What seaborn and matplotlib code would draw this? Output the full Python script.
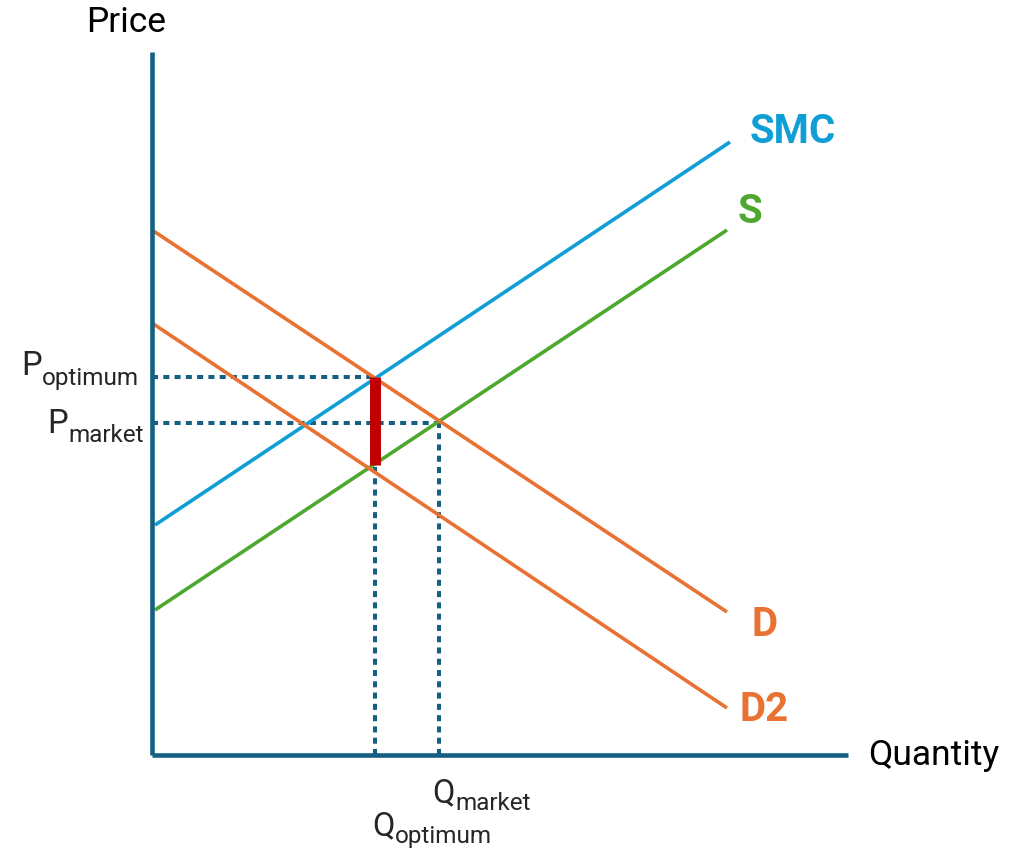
import matplotlib
matplotlib.use("Agg")
import matplotlib.pyplot as plt
import seaborn as sns
import pandas as pd

# ---- data (quantity, price) ----
smc_q = [3, 578]
smc_p = [230, 613]
s_q = [3, 575]
s_p = [145, 525]
d_q = [0, 575]
d_p = [525, 143]
d2_q = [0, 575]
d2_p = [432, 47]

q_optimum = 223
p_optimum = 378
q_market = 287
p_market = 332
p_welfare_low = 290   # bottom of red bar (S at Q_optimum)

axis_q_max = 696
axis_p_max = 703

curve_names = ["SMC", "S", "D", "D2"]

# ---- styling ----
sns.set_theme(style="white")
plt.rcParams["font.family"] = ["Roboto", "DejaVu Sans"]

C_SMC = "#0F9ED5"
C_S = "#4EA72E"
C_D = "#E97132"
C_AX = "#156082"
C_RED = "#C00000"

fig = plt.figure(figsize=(10.23, 8.51), dpi=100)
ax = fig.add_axes([0, 0, 1, 1])
ax.set_xlim(-152, 871)
ax.set_ylim(-96, 755)
ax.axis("off")

df = pd.concat([
    pd.DataFrame({"q": smc_q, "p": smc_p, "curve": "SMC"}),
    pd.DataFrame({"q": s_q, "p": s_p, "curve": "S"}),
    pd.DataFrame({"q": d_q, "p": d_p, "curve": "D"}),
    pd.DataFrame({"q": d2_q, "p": d2_p, "curve": "D2"}),
])
sns.lineplot(data=df, x="q", y="p", hue="curve", hue_order=curve_names,
             palette={"SMC": C_SMC, "S": C_S, "D": C_D, "D2": C_D},
             linewidth=2.6, legend=False, ax=ax, sort=False,
             solid_capstyle="butt", zorder=3)

# dotted guide lines
dot = dict(color=C_AX, lw=2.9, linestyle=(0, (1.5, 1.3)), zorder=2,
           dash_capstyle="butt")
ax.plot([0, q_optimum], [p_optimum, p_optimum], **dot)
ax.plot([0, q_market], [p_market, p_market], **dot)
ax.plot([q_optimum, q_optimum], [0, p_optimum], **dot)
ax.plot([q_market, q_market], [0, p_market], **dot)

# red welfare-loss bar
ax.plot([q_optimum, q_optimum], [p_welfare_low, p_optimum], color=C_RED,
        lw=7.9, solid_capstyle="butt", zorder=4)

# axes
ax.plot([0, 0], [0, axis_p_max], color=C_AX, lw=3.3, solid_capstyle="butt", zorder=5)
ax.plot([0, axis_q_max], [0, 0], color=C_AX, lw=3.3, solid_capstyle="butt", zorder=5)

# axis titles
ax.text(-26, 733, "Price", fontsize=25.5, ha="center", va="center", color="black")
ax.text(716, -1, "Quantity", fontsize=25.5, ha="left", va="center", color="black")

# curve labels
lab = dict(fontsize=29, fontweight="bold", ha="left", va="center")
ax.text(598, 623, "SMC", color=C_SMC, **lab)
ax.text(586, 543, "S", color=C_S, **lab)
ax.text(600, 130, "D", color=C_D, **lab)
ax.text(588, 45, "D2", color=C_D, **lab)

# price / quantity labels with subscripts
big = 23.5
small = 17.5
ax.text(-110, 380, "P", fontsize=big, ha="right", va="baseline")
ax.text(-110, 370, "optimum", fontsize=small, ha="left", va="baseline")
ax.text(-84, 322, "P", fontsize=big, ha="right", va="baseline")
ax.text(-84, 313, "market", fontsize=small, ha="left", va="baseline")
ax.text(303, -47, "Q", fontsize=big, ha="right", va="baseline")
ax.text(303, -55, "market", fontsize=small, ha="left", va="baseline")
ax.text(243, -80, "Q", fontsize=big, ha="right", va="baseline")
ax.text(243, -88, "optimum", fontsize=small, ha="left", va="baseline")

fig.savefig("out.png", dpi=100, facecolor="white")
